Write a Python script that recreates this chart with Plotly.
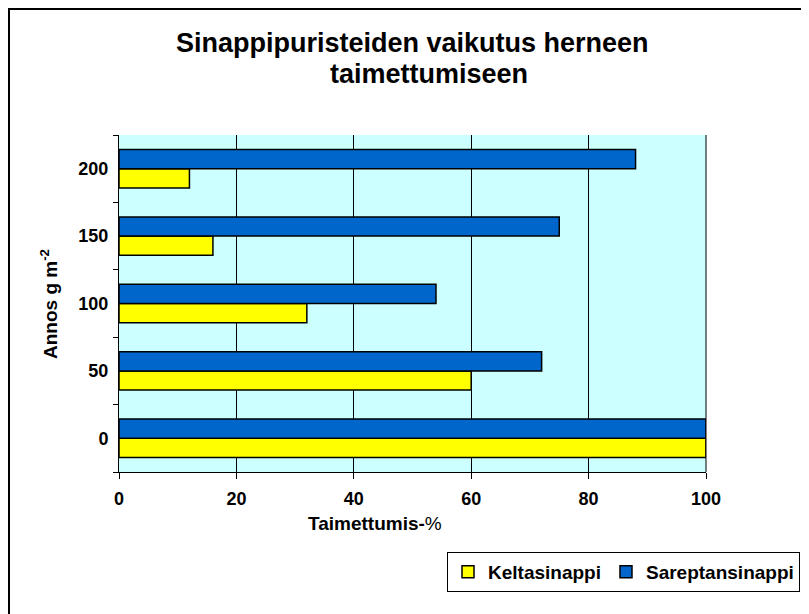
import plotly.graph_objects as go

categories = ["0", "50", "100", "150", "200"]
keltasinappi = [100, 60, 32, 16, 12]
sareptansinappi = [100, 72, 54, 75, 88]
x_ticks = [0, 20, 40, 60, 80, 100]

# page offset (body margin) compensation
OFF = 8
W, H = 809 - OFF, 614 - OFF
L, R, T, B = 119 - OFF, 706 - OFF, 135 - OFF, 472 - OFF
pw, ph = R - L, B - T


def px(x_page):
    return (x_page - OFF - L) / pw


def py(y_page):
    return (B - (y_page - OFF)) / ph


FONT = "Liberation Sans, Arial, Helvetica, sans-serif"

fig = go.Figure()
fig.add_trace(go.Bar(y=categories, x=keltasinappi, orientation="h", name="Keltasinappi",
                     marker=dict(color="#FFFF00", line=dict(color="black", width=1.5))))
fig.add_trace(go.Bar(y=categories, x=sareptansinappi, orientation="h", name="Sareptansinappi",
                     marker=dict(color="#0066CC", line=dict(color="black", width=1.5))))

fig.update_layout(
    width=W, height=H,
    margin=dict(l=L, r=W - R, t=T, b=H - B, autoexpand=False),
    paper_bgcolor="white", plot_bgcolor="#CCFFFF",
    font=dict(family=FONT, color="black"),
    barmode="group", bargap=0.43, bargroupgap=0,
    showlegend=True,
    legend=dict(orientation="h", x=px(800), xanchor="right", y=py(552), yanchor="top",
                bordercolor="black", borderwidth=1, bgcolor="white",
                font=dict(size=19, weight="bold"), traceorder="normal", itemwidth=30),
    xaxis=dict(range=[0, 100], tickvals=x_ticks, showgrid=True, gridcolor="black", gridwidth=1,
               showline=True, linecolor="black", linewidth=1, ticks="outside", ticklen=6,
               tickcolor="black", tickfont=dict(size=18, weight="bold"), zeroline=False,
               ticklabelstandoff=4),
    yaxis=dict(type="category", categoryorder="array", categoryarray=categories,
               showgrid=False, showline=True, linecolor="black", linewidth=1,
               ticks="outside", tickson="boundaries", ticklen=5, tickcolor="black",
               tickfont=dict(size=18, weight="bold"), ticklabelstandoff=6),
    annotations=[
        dict(text="<b>Sinappipuristeiden vaikutus herneen</b>", xref="paper", yref="paper",
             x=px(413), y=py(43), xanchor="center", yanchor="middle", showarrow=False,
             font=dict(size=27)),
        dict(text="<b>taimettumiseen</b>", xref="paper", yref="paper",
             x=px(429), y=py(74), xanchor="center", yanchor="middle", showarrow=False,
             font=dict(size=27)),
        dict(text="<b>Taimettumis-</b>%", xref="paper", yref="paper",
             x=px(375), y=py(523), xanchor="center", yanchor="middle", showarrow=False,
             font=dict(size=19)),
        dict(text="<b>Annos g m<sup>-2</sup></b>", xref="paper", yref="paper",
             x=px(49), y=py(304), xanchor="center", yanchor="middle", showarrow=False,
             textangle=-90, font=dict(size=19)),
    ],
)

# right edge line of the plot area
fig.add_shape(type="line", xref="paper", yref="paper", x0=1, x1=1, y0=0, y1=1,
              line=dict(color="black", width=1))
# outer chart border (only top/left visible in the frame)
fig.add_shape(type="rect", xref="paper", yref="paper",
              x0=px(9), x1=px(830), y0=py(9), y1=py(640),
              line=dict(color="black", width=2), layer="above")

fig.write_html("out.html")
